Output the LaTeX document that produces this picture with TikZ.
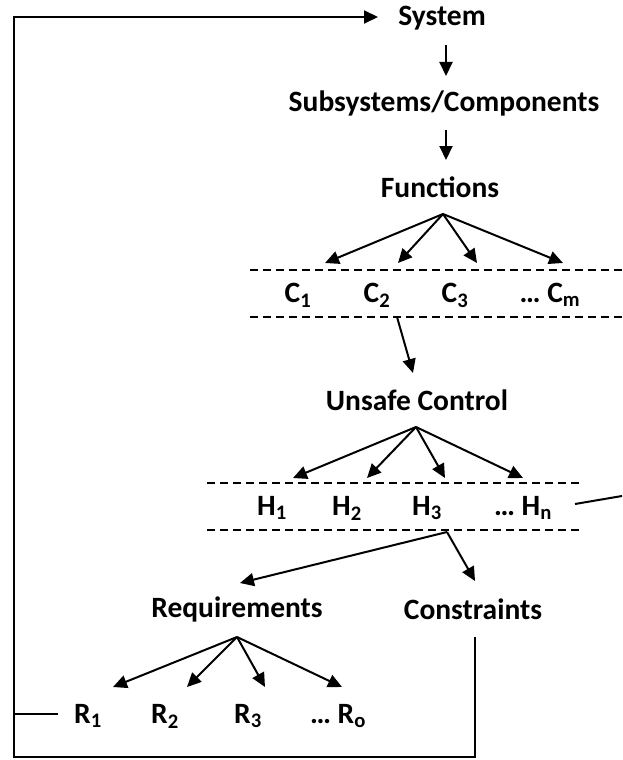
\documentclass[tikz,border=0pt]{standalone}
\usepackage{fontspec}
\setmainfont{Carlito}
\usetikzlibrary{arrows.meta}
\begin{document}
\begin{tikzpicture}[x=1pt,y=-1pt,
  lbl/.style={inner sep=0pt,font=\fontsize{29.5}{34}\selectfont\bfseries},
  arr/.style={line width=2pt,-{Triangle[length=14pt,width=13pt]}},
  ln/.style={line width=2pt},
  dsh/.style={line width=1.8pt,dash pattern=on 8pt off 5pt}]
\useasboundingbox (0,0) rectangle (622,760);
% labels
\node[lbl] (sys) at (442,18) {System};
\node[lbl] (sub) at (444,103) {Subsystems/Components};
\node[lbl] (fun) at (440,187) {Functions};
\node[lbl] (c1) at (298,295) {C\textsubscript{1}};
\node[lbl] (c2) at (377,295) {C\textsubscript{2}};
\node[lbl] (c3) at (455,295) {C\textsubscript{3}};
\node[lbl] (cm) at (550,295) {\dots\ C\textsubscript{m}};
\node[lbl] (uc) at (417,400) {Unsafe Control};
\node[lbl] (h1) at (272,508) {H\textsubscript{1}};
\node[lbl] (h2) at (347,508) {H\textsubscript{2}};
\node[lbl] (h3) at (427,508) {H\textsubscript{3}};
\node[lbl] (hn) at (523,508) {\dots\ H\textsubscript{n}};
\node[lbl] (req) at (237,609) {Requirements};
\node[lbl] (con) at (473,609) {Constraints};
\node[lbl] (r1) at (88,716) {R\textsubscript{1}};
\node[lbl] (r2) at (165,716) {R\textsubscript{2}};
\node[lbl] (r3) at (248,716) {R\textsubscript{3}};
\node[lbl] (ro) at (338,716) {\dots\ R\textsubscript{o}};
% coordinates
\coordinate (funo) at (443,214);
\coordinate (c1t) at (325,263);
\coordinate (c2t) at (398,263);
\coordinate (c3t) at (477,263);
\coordinate (cmt) at (563,263);
\coordinate (cbot) at (397,317);
\coordinate (uct) at (413,373);
\coordinate (uco) at (416,427);
\coordinate (h1t) at (293,478);
\coordinate (h2t) at (367,478);
\coordinate (h3t) at (445,478);
\coordinate (hnt) at (523,478);
\coordinate (hbot) at (447,532);
\coordinate (reqt) at (240,583);
\coordinate (cont) at (475,581);
\coordinate (reqo) at (237,637);
\coordinate (r1t) at (113,687);
\coordinate (r2t) at (187,687);
\coordinate (r3t) at (265,687);
\coordinate (rot) at (342,687);
\coordinate (hnl) at (575,504);
\coordinate (hnr) at (622,496);
\coordinate (conb) at (475,637);
\coordinate (r1s) at (58,714);
\coordinate (loopx) at (14,714);
\coordinate (sysin) at (378,17);
% vertical arrows
\draw[arr] (446,45) -- (446,76);
\draw[arr] (446,130) -- (446,160);
% fan from functions
\foreach \t in {c1t,c2t,c3t,cmt} \draw[arr] (funo) -- (\t);
\draw[dsh] (250,270) -- (622,270);
\draw[dsh] (250,317) -- (622,317);
\draw[arr] (cbot) -- (uct);
% fan from unsafe control
\foreach \t in {h1t,h2t,h3t,hnt} \draw[arr] (uco) -- (\t);
\draw[dsh] (207,483) -- (583,483);
\draw[dsh] (207,530) -- (583,530);
\draw[ln] (hnl) -- (hnr);
\draw[arr] (hbot) -- (reqt);
\draw[arr] (hbot) -- (cont);
% fan from requirements
\foreach \t in {r1t,r2t,r3t,rot} \draw[arr] (reqo) -- (\t);
% feedback loop
\draw[ln] (r1s) -- (loopx);
\draw[arr] (conb) -- (475,757) -- (14,757) -- (14,17) -- (sysin);
\end{tikzpicture}
\end{document}
